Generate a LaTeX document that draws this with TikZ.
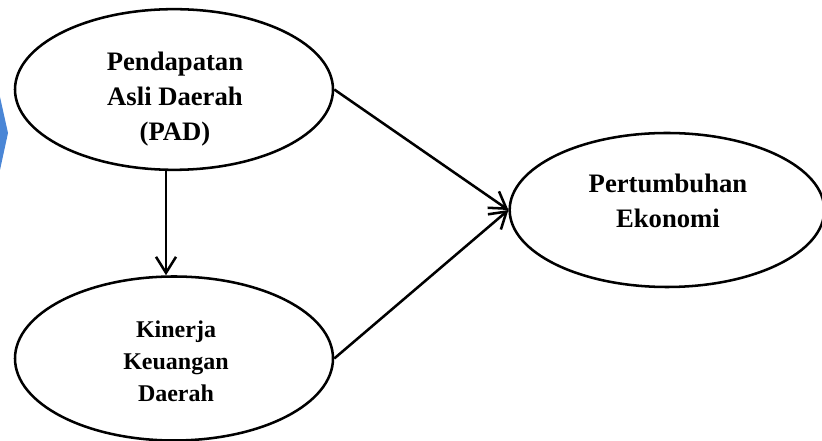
\documentclass[tikz,border=0pt]{standalone}
\usepackage{fontspec}
\setmainfont{Liberation Serif}
\usetikzlibrary{shapes.geometric,arrows.meta}
\definecolor{chevblue}{RGB}{74,134,214}
\begin{document}
\begin{tikzpicture}[x=0.75pt,y=-0.75pt,
  oval/.style={ellipse,draw,line width=1.9pt,inner sep=0pt},
  lbl/.style={align=center,font=\bfseries,inner sep=0pt},
  conn/.style={line width=1.9pt,-{Straight Barb[length=12pt,width=15pt,line width=1.9pt]}}]
\useasboundingbox (0,0) rectangle (822,441);
\fill[chevblue] (0,97) -- (8,133) -- (0,170) -- cycle;
\node[oval,minimum width=238.5pt,minimum height=120.5pt] (pad) at (174,89.5) {};
\node[oval,minimum width=238.5pt,minimum height=123pt] (kd) at (174,358.5) {};
\node[oval,minimum width=236pt,minimum height=115.5pt] (pe) at (667,210) {};
\node[lbl,font=\bfseries\fontsize{20}{26}\selectfont] (padt) at (175,99) {Pendapatan\\Asli Daerah\\(PAD)};
\node[lbl,font=\bfseries\fontsize{18}{24}\selectfont] (kdt) at (176,361) {Kinerja\\Keuangan\\Daerah};
\node[lbl,font=\bfseries\fontsize{20}{26}\selectfont] (pet) at (668,201) {Pertumbuhan\\Ekonomi};
\draw[conn] ([xshift=-6pt]pad.south) -- ([xshift=-6pt]kd.north);
\draw[conn] (pad.east) -- (pe.west);
\draw[conn] (kd.east) -- (pe.west);
\end{tikzpicture}
\end{document}
